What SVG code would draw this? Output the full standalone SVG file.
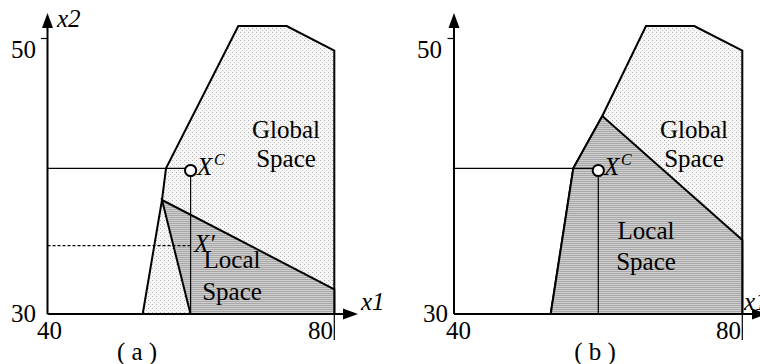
<svg xmlns="http://www.w3.org/2000/svg" width="760" height="364" viewBox="0 0 760 364">
<defs>
<pattern id="light" width="4" height="4" patternUnits="userSpaceOnUse">
<rect width="4" height="4" fill="#f6f6f6"/>
<rect x="0" y="0" width="1" height="1" fill="#b0b0b0"/>
<rect x="2" y="2" width="1" height="1" fill="#c8c8c8"/>
</pattern>
<pattern id="dark" width="2" height="2" patternUnits="userSpaceOnUse">
<rect width="2" height="2" fill="#cfcfcf"/>
<rect x="0" y="1" width="2" height="1" fill="#a8a8a8"/>
</pattern>
</defs>
<style>
text{font-family:'Liberation Serif','Times New Roman','DejaVu Serif',serif;fill:#000}
.t{font-size:25px}
.i{font-style:italic}
.sup{font-size:16px;font-style:italic}
.reg{stroke:#000;stroke-width:2;stroke-linejoin:miter}
.axis{stroke:#000;stroke-width:2;fill:none}
.thin{stroke:#000;stroke-width:1.2;fill:none}
.dash{stroke:#000;stroke-width:1.2;fill:none;stroke-dasharray:3,2}
.pt{fill:#fff;stroke:#000;stroke-width:2}
.ah{fill:#000}
</style>

<g id="panel-a">
<g id="a-global">
<polygon class="reg" fill="url(#light)" points="142.7,314 162,200 166,168.3 238.3,26 286.7,26 334.3,50.7 334.3,314"/>
</g>
<g id="a-local">
<polygon class="reg" fill="url(#dark)" points="162,200 334.3,289.3 334.3,314 190.5,314"/>
</g>
<g id="a-connectors">
<line class="axis" x1="47.5" y1="314" x2="47.5" y2="26"/>
<path class="ah" d="M47.5,13 L53,28 L42,28 z"/>
<line class="axis" x1="47.5" y1="314" x2="345" y2="314"/>
<path class="ah" d="M358,314 L343,308.5 L343,319.5 z"/>
<line class="thin" x1="41" y1="38.5" x2="47.5" y2="38.5"/>
<line class="thin" x1="334.3" y1="314" x2="334.3" y2="340"/>
<line class="thin" x1="47.5" y1="168.3" x2="185" y2="168.3"/>
<line class="thin" x1="190.6" y1="176" x2="190.6" y2="314"/>
<line class="dash" x1="47.5" y1="245.7" x2="190" y2="245.7"/>
</g>
<g id="a-xc">
<circle class="pt" cx="190.6" cy="170.5" r="5.6"/>
<text class="t i" x="197" y="175">X</text><text class="sup" x="214" y="165">C</text>
</g>
<g id="a-xprime"><text class="t i" x="194" y="252">X′</text></g>
<g id="a-labels">
<text class="t i" x="57" y="27">x2</text>
<text class="t" x="11" y="58">50</text>
<text class="t" x="11" y="322">30</text>
<text class="t" x="37" y="339">40</text>
<text class="t" x="308" y="339">80</text>
<text class="t i" x="361" y="310">x1</text>
<text class="t" x="286" y="138" text-anchor="middle">Global</text>
<text class="t" x="286" y="167" text-anchor="middle">Space</text>
<text class="t" x="232" y="268" text-anchor="middle">Local</text>
<text class="t" x="232" y="300" text-anchor="middle">Space</text>
<text class="t" x="137" y="360" text-anchor="middle">( a )</text>
</g>
</g>

<g id="panel-b">
<g id="b-global">
<polygon class="reg" fill="url(#light)" points="550.7,314 573.3,168.3 602.3,116 646,26 694.3,26 742.3,50.7 742.3,314"/>
</g>
<g id="b-local">
<polygon class="reg" fill="url(#dark)" points="550.7,314 573.3,168.3 602.3,116 742.3,240 742.3,314"/>
</g>
<g id="b-connectors">
<line class="axis" x1="454" y1="314" x2="454" y2="26"/>
<path class="ah" d="M454,13 L459.5,28 L448.5,28 z"/>
<line class="axis" x1="454" y1="314" x2="755" y2="314"/>
<path class="ah" d="M767,314 L752,308.5 L752,319.5 z"/>
<line class="thin" x1="447.5" y1="38.5" x2="454" y2="38.5"/>
<line class="thin" x1="742.3" y1="314" x2="742.3" y2="340"/>
<line class="thin" x1="454" y1="168.3" x2="593" y2="168.3"/>
<line class="thin" x1="598.3" y1="176" x2="598.3" y2="314"/>
</g>
<g id="b-xc">
<circle class="pt" cx="598.3" cy="170.5" r="5.6"/>
<text class="t i" x="604" y="175">X</text><text class="sup" x="621" y="165">C</text>
</g>
<g id="b-labels">
<text class="t" x="417" y="58">50</text>
<text class="t" x="423" y="322">30</text>
<text class="t" x="446" y="339">40</text>
<text class="t" x="716" y="339">80</text>
<text class="t i" x="744" y="310">x1</text>
<text class="t" x="694" y="138" text-anchor="middle">Global</text>
<text class="t" x="694" y="167" text-anchor="middle">Space</text>
<text class="t" x="646" y="239" text-anchor="middle">Local</text>
<text class="t" x="646" y="270" text-anchor="middle">Space</text>
<text class="t" x="595" y="360" text-anchor="middle">( b )</text>
</g>
</g>
</svg>
